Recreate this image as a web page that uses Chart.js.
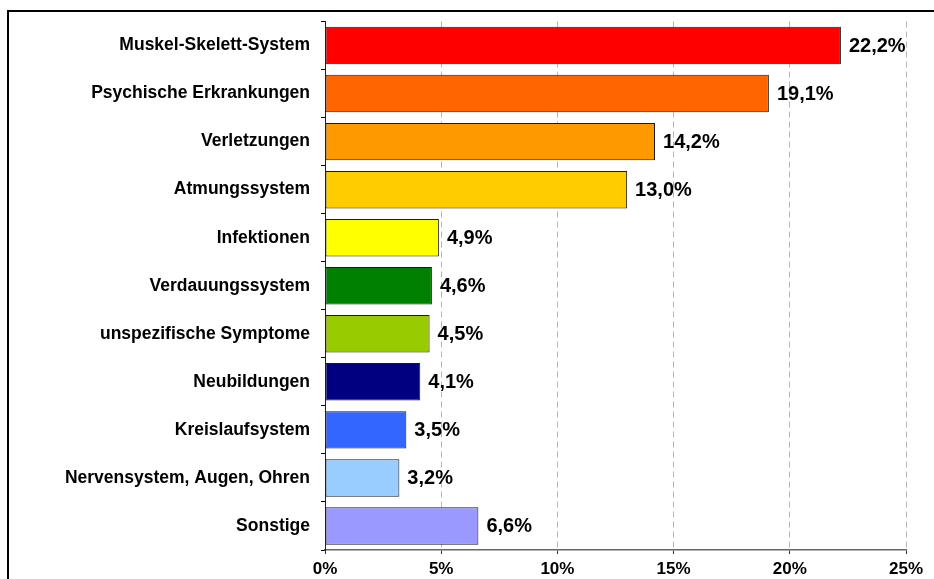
<!DOCTYPE html>
<html>
<head>
<meta charset="utf-8">
<script src="https://cdn.jsdelivr.net/npm/chart.js@4/dist/chart.umd.min.js"></script>
<style>
  html, body { margin: 0; padding: 0; background: #fff; }
  canvas { display: block; }
</style>
</head>
<body>
<canvas id="chart" width="934" height="579"></canvas>
<script>
// Daten
const categories = [
    'Muskel-Skelett-System',
    'Psychische Erkrankungen',
    'Verletzungen',
    'Atmungssystem',
    'Infektionen',
    'Verdauungssystem',
    'unspezifische Symptome',
    'Neubildungen',
    'Kreislaufsystem',
    'Nervensystem, Augen, Ohren',
    'Sonstige'
];
const values = [22.2, 19.1, 14.2, 13.0, 4.9, 4.6, 4.5, 4.1, 3.5, 3.2, 6.6];
const barColors = [
    '#FF0000', '#FF6600', '#FF9900', '#FFCC00', '#FFFF00', '#008000',
    '#99CC00', '#000080', '#3366FF', '#99CCFF', '#9999FF'
];
const xTicks = [0, 5, 10, 15, 20, 25];

const FONT = '"Liberation Sans", Arial, sans-serif';

function fmt(v) {
    return v.toFixed(1).replace('.', ',') + '%';
}

// Rahmen oben + links
const framePlugin = {
    id: 'frame',
    beforeDraw(chart) {
        const c = chart.ctx;
        c.save();
        c.strokeStyle = '#000';
        c.lineWidth = 2;
        c.beginPath();
        c.moveTo(8, chart.height);
        c.lineTo(8, 11);
        c.lineTo(chart.width, 11);
        c.stroke();
        c.restore();
    }
};

// Werte rechts neben den Balken
const valueLabels = {
    id: 'valueLabels',
    afterDatasetsDraw(chart) {
        const c = chart.ctx;
        const meta = chart.getDatasetMeta(0);
        c.save();
        c.font = 'bold 20px ' + FONT;
        c.fillStyle = '#000';
        c.textAlign = 'left';
        c.textBaseline = 'middle';
        meta.data.forEach((bar, i) => {
            c.fillText(fmt(values[i]), bar.x + 8, bar.y + 1);
        });
        c.restore();
    }
};

new Chart(document.getElementById('chart'), {
    type: 'bar',
    data: {
        labels: categories,
        datasets: [{
            data: values,
            backgroundColor: barColors,
            borderColor: '#1a1a1a',
            borderWidth: 1,
            borderSkipped: false,
            barPercentage: 0.78,
            categoryPercentage: 1
        }]
    },
    options: {
        indexAxis: 'y',
        responsive: false,
        devicePixelRatio: 1,
        animation: false,
        layout: { padding: { top: 17, right: 28, left: 0, bottom: 0 } },
        plugins: {
            legend: { display: false },
            tooltip: { enabled: false }
        },
        scales: {
            x: {
                min: 0,
                max: 25,
                afterBuildTicks: axis => { axis.ticks = xTicks.map(v => ({ value: v })); },
                afterFit: axis => { axis.height = 29; },
                ticks: {
                    callback: v => v + '%',
                    color: '#000',
                    padding: 5,
                    font: { family: FONT, size: 17, weight: 'bold' }
                },
                grid: {
                    color: ctx => ctx.index === 0 ? 'rgba(0,0,0,0)' : '#b4b4b4',
                    tickColor: '#333',
                    tickLength: 4,
                    drawOnChartArea: true
                },
                border: { color: '#666', width: 1.5, dash: [6, 4] }
            },
            y: {
                afterFit: axis => { axis.width = 325; },
                ticks: {
                    color: '#000',
                    padding: 11,
                    font: { family: FONT, size: 17.5, weight: 'bold' }
                },
                grid: {
                    offset: true,
                    drawOnChartArea: false,
                    color: '#000',
                    tickLength: 4
                },
                border: { color: '#222', width: 1 }
            }
        }
    },
    plugins: [framePlugin, valueLabels]
});
</script>
</body>
</html>
